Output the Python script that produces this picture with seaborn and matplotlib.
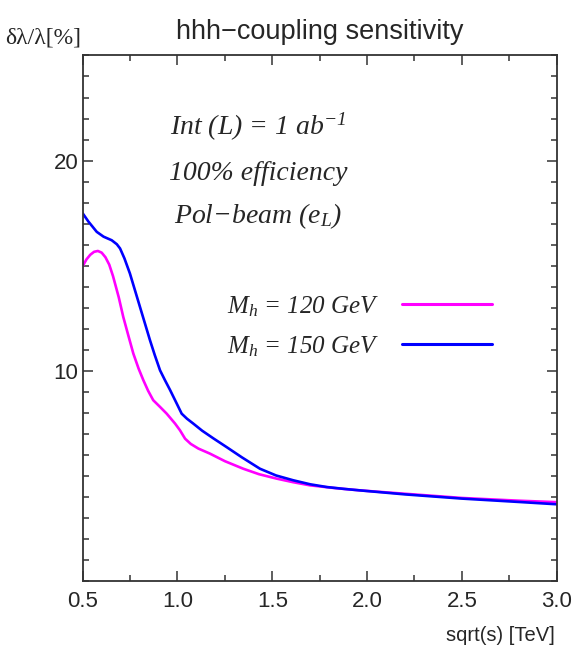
import numpy as np
import matplotlib
matplotlib.use("Agg")
import matplotlib.pyplot as plt
import pandas as pd
import seaborn as sns
from matplotlib.ticker import MultipleLocator

# values
x_120 = [0.50, 0.52, 0.54, 0.56, 0.58, 0.60, 0.62, 0.64, 0.66, 0.69, 0.714, 0.74, 0.767,
         0.795, 0.82, 0.845, 0.872, 0.908, 0.943, 0.987, 1.013, 1.04, 1.07, 1.11, 1.171,
         1.25, 1.347, 1.43, 1.523, 1.61, 1.699, 1.83, 1.963, 2.2, 2.5, 2.8, 3.0]
y_120 = [14.98, 15.30, 15.52, 15.66, 15.70, 15.62, 15.40, 15.05, 14.50, 13.50, 12.56, 11.70, 10.82,
         10.10, 9.55, 9.05, 8.60, 8.28, 7.96, 7.49, 7.17, 6.77, 6.52, 6.30, 6.06,
         5.70, 5.34, 5.08, 4.87, 4.70, 4.55, 4.42, 4.31, 4.15, 3.95, 3.82, 3.75]

x_150 = [0.50, 0.53, 0.574, 0.61, 0.653, 0.68, 0.697, 0.72, 0.749, 0.775, 0.802, 0.83, 0.855,
         0.88, 0.908, 0.934, 0.96, 0.996, 1.022, 1.05, 1.083, 1.13, 1.19, 1.259, 1.34,
         1.435, 1.52, 1.611, 1.70, 1.787, 1.88, 1.963, 2.2, 2.5, 2.8, 3.0]
y_150 = [17.49, 17.10, 16.61, 16.38, 16.21, 16.02, 15.82, 15.35, 14.63, 13.85, 13.04, 12.20, 11.45,
         10.75, 10.02, 9.55, 9.10, 8.44, 7.96, 7.72, 7.49, 7.15, 6.78, 6.37, 5.88,
         5.34, 5.02, 4.79, 4.60, 4.47, 4.38, 4.31, 4.12, 3.92, 3.76, 3.65]

labels = ["$M_h$ = 120 GeV", "$M_h$ = 150 GeV"]
colors = ["#ff00ff", "#0000ff"]

df = pd.concat([
    pd.DataFrame({"x": x_120, "y": y_120, "mass": labels[0]}),
    pd.DataFrame({"x": x_150, "y": y_150, "mass": labels[1]}),
])

sns.set_style("ticks")
plt.rcParams["font.family"] = ["Liberation Sans", "DejaVu Sans"]
plt.rcParams["mathtext.fontset"] = "custom"
plt.rcParams["mathtext.rm"] = "Liberation Serif:italic"
plt.rcParams["mathtext.it"] = "Liberation Serif:italic"
plt.rcParams["mathtext.bf"] = "Liberation Serif:italic:bold"

fig = plt.figure(figsize=(5.82, 6.48), dpi=100)
ax = fig.add_axes([0.1421, 0.1034, 0.8144, 0.811])

sns.lineplot(data=df, x="x", y="y", hue="mass", palette=colors, sort=False,
             linewidth=1.9, ax=ax)

ax.set_xlim(0.5, 3.0)
ax.set_ylim(0, 25)
ax.xaxis.set_major_locator(MultipleLocator(0.5))
ax.xaxis.set_minor_locator(MultipleLocator(0.25))
ax.set_yticks([10, 20])
ax.yaxis.set_minor_locator(MultipleLocator(1))
ax.xaxis.set_major_formatter(matplotlib.ticker.FormatStrFormatter("%.1f"))
ax.tick_params(which="both", direction="in", top=True, right=True,
               color="#333333", width=1.1, labelsize=16)
ax.tick_params(which="major", length=7)
ax.tick_params(which="minor", length=4.5)
ax.tick_params(axis="x", pad=7)
ax.tick_params(axis="y", pad=3)
for s in ax.spines.values():
    s.set_color("#333333")
    s.set_linewidth(1.3)

ax.set_xlabel("sqrt(s) [TeV]", fontsize=14.5)
ax.xaxis.set_label_coords(0.995, -0.085)
ax.xaxis.label.set_horizontalalignment("right")
ax.set_ylabel("")
fig.text(0.008, 0.941, "δλ/λ[%]", fontsize=17, family="Liberation Serif", va="center")
ax.set_title("hhh−coupling sensitivity", fontsize=19.5, pad=12)

it = dict(fontsize=20, family="Liberation Serif", style="italic", ha="center",
          va="center", transform=ax.transAxes)
ax.text(0.37, 0.865, "Int (L) = 1 ab$^{-1}$", **it)
ax.text(0.37, 0.775, "100% efficiency", **it)
ax.text(0.37, 0.695, "Pol−beam (e$_L$)", **it)

leg = ax.legend(loc="upper right", bbox_to_anchor=(0.89, 0.57), frameon=False,
                markerfirst=False, handlelength=3.6, handletextpad=0.9,
                labelspacing=0.62, borderpad=0,
                prop={"family": "Liberation Serif", "style": "italic", "size": 18})
for line in leg.get_lines():
    line.set_linewidth(2.2)

plt.savefig("out.png", dpi=100)
